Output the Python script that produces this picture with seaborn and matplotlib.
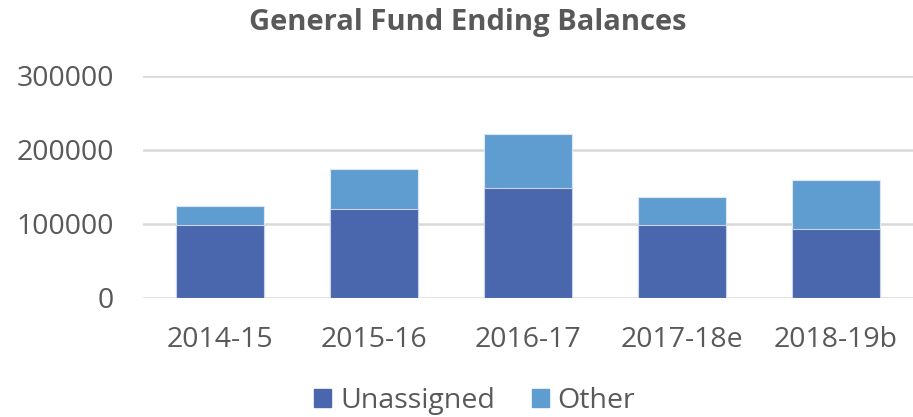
"""General Fund ending balances — stacked bar chart."""

import matplotlib

matplotlib.use("Agg")

import matplotlib.pyplot as plt
import numpy as np
import pandas as pd
import seaborn as sns
from matplotlib.patches import Patch

years = ["2014-15", "2015-16", "2016-17", "2017-18e", "2018-19b"]
unassigned = [99000, 120000, 148000, 99000, 93000]
other = [25000, 55000, 74000, 37000, 67000]

DARK = "#4A66AC"
LIGHT = "#5F9DD1"
TEXT = "#595959"

sns.set_theme(style="white")
plt.rcParams["font.family"] = ["Open Sans", "DejaVu Sans"]

df = pd.DataFrame({"year": years, "unassigned": unassigned, "other": other})
# 積み上げは合計を先に描いてから下段を重ねる
df["total"] = df["unassigned"] + df["other"]

fig = plt.figure(figsize=(9.13, 4.17), dpi=100)
ax = fig.add_axes([143 / 913, 119 / 417, 770 / 913, 222 / 417])

sns.barplot(data=df, x="year", y="total", color=LIGHT, saturation=1,
            width=0.57, edgecolor="#DDE6F3", linewidth=0.8, ax=ax, zorder=3)
sns.barplot(data=df, x="year", y="unassigned", color=DARK, saturation=1,
            width=0.57, edgecolor="#C9D3EA", linewidth=0.8, ax=ax, zorder=4)

ax.set_ylim(0, 300000)
ax.set_xlim(-0.5, len(years) - 0.5)
ax.set_yticks(np.arange(0, 300001, 100000))
ax.yaxis.grid(True, color="#D9D9D9", linewidth=1.8, zorder=0)
ax.set_axisbelow(True)
for s in ax.spines.values():
    s.set_visible(False)

ax.set_xlabel("")
ax.set_ylabel("")
ax.tick_params(axis="y", labelsize=20.5, colors=TEXT, length=0, pad=21)
ax.tick_params(axis="x", labelsize=20.5, colors=TEXT, length=0, pad=20)

fig.text(0.512, 0.947, "General Fund Ending Balances", ha="center",
         va="center", fontsize=21, fontweight="bold", color=TEXT)

handles = [Patch(color=DARK, label="Unassigned"),
           Patch(color=LIGHT, label="Other")]
fig.legend(handles=handles, loc="center", bbox_to_anchor=(0.52, 0.038),
           ncol=2, frameon=False, fontsize=20.5, labelcolor=TEXT,
           handlelength=0.6, handleheight=0.6, handletextpad=0.3,
           columnspacing=1.3)

fig.savefig("out.png", dpi=100)
